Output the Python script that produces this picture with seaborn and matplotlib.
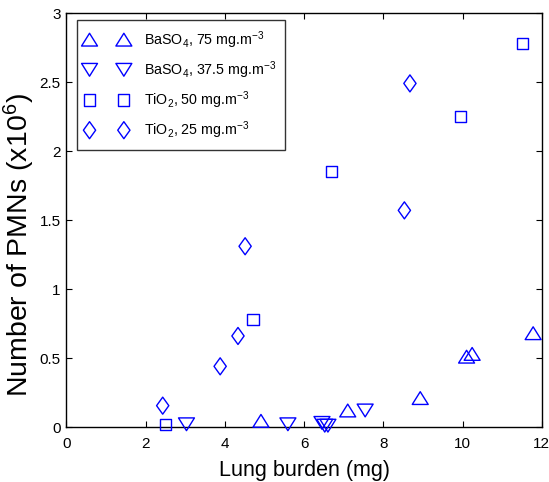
import numpy as np
import pandas as pd
import matplotlib
matplotlib.use("Agg")
import matplotlib.pyplot as plt
from matplotlib.path import Path
import seaborn as sns

# Lung burden (mg) and PMN counts (x10^6) for each exposure group
baso4_75_x = [4.91, 7.10, 8.93, 10.10, 10.24, 11.78]
baso4_75_y = [0.045, 0.12, 0.21, 0.51, 0.53, 0.68]

baso4_375_x = [3.03, 5.59, 6.45, 6.52, 6.60, 7.54]
baso4_375_y = [0.02, 0.02, 0.03, 0.01, 0.01, 0.12]

tio2_50_x = [2.51, 4.71, 6.68, 9.95, 11.52]
tio2_50_y = [0.02, 0.78, 1.85, 2.25, 2.78]

tio2_25_x = [2.43, 3.88, 4.33, 4.51, 8.53, 8.67]
tio2_25_y = [0.155, 0.44, 0.66, 1.31, 1.57, 2.49]

labels = [
    r"BaSO$_4$, 75 mg.m$^{-3}$",
    r"BaSO$_4$, 37.5 mg.m$^{-3}$",
    r"TiO$_2$, 50 mg.m$^{-3}$",
    r"TiO$_2$, 25 mg.m$^{-3}$",
]
x_ticks = [0, 2, 4, 6, 8, 10, 12]
y_ticks = [0, 0.5, 1, 1.5, 2, 2.5, 3]
y_tick_labels = ["0", "0.5", "1", "1.5", "2", "2.5", "3"]

sns.set_theme(style="white")
plt.rcParams["font.family"] = ["Liberation Sans", "DejaVu Sans"]
plt.rcParams["mathtext.default"] = "regular"
plt.rcParams["text.color"] = "black"
plt.rcParams["axes.labelcolor"] = "black"

closed4 = [Path.MOVETO, Path.LINETO, Path.LINETO, Path.CLOSEPOLY]
# Wide open triangles and a tall diamond
tri_up = Path([(-1, -0.8), (1, -0.8), (0, 0.8), (-1, -0.8)], closed4)
tri_down = Path([(-1, 0.8), (1, 0.8), (0, -0.8), (-1, 0.8)], closed4)
diamond = Path([(0, 1), (0.72, 0), (0, -1), (-0.72, 0), (0, 1)],
               [Path.MOVETO, Path.LINETO, Path.LINETO, Path.LINETO, Path.CLOSEPOLY])

frames = []
for xs, ys, lab in [(baso4_75_x, baso4_75_y, labels[0]),
                    (baso4_375_x, baso4_375_y, labels[1]),
                    (tio2_50_x, tio2_50_y, labels[2]),
                    (tio2_25_x, tio2_25_y, labels[3])]:
    frames.append(pd.DataFrame({"burden": xs, "pmn": ys, "group": lab}))
df = pd.concat(frames, ignore_index=True)

fig = plt.figure(figsize=(5.49, 4.82), dpi=100)
ax = fig.add_axes([0.121, 0.114, 0.866, 0.859])

marker_map = {labels[0]: tri_up, labels[1]: tri_down, labels[2]: "s", labels[3]: diamond}
size_map = {labels[0]: 132, labels[1]: 132, labels[2]: 64, labels[3]: 150}

for lab in labels:
    sub = df[df["group"] == lab]
    sns.scatterplot(data=sub, x="burden", y="pmn", ax=ax, marker=marker_map[lab],
                    s=size_map[lab], facecolor="none", edgecolor="#0000ff",
                    linewidth=1.0, label=lab, clip_on=False, zorder=3)

ax.set_xlim(0, 12)
ax.set_ylim(0, 3)
ax.set_xticks(x_ticks)
ax.set_xticklabels([str(t) for t in x_ticks])
ax.set_yticks(y_ticks)
ax.set_yticklabels(y_tick_labels)
ax.tick_params(direction="in", length=4, width=0.8, top=True, right=True,
               bottom=True, left=True, labelsize=11, colors="black")
ax.tick_params(axis="x", pad=7)
ax.tick_params(axis="y", pad=4)
for sp in ax.spines.values():
    sp.set_color("black")
    sp.set_linewidth(1.0)

ax.set_xlabel("Lung burden (mg)", fontsize=15.5, labelpad=7, color="black")
ax.set_ylabel("Number of PMNs (x10$^{6}$)", fontsize=20.5, color="black")
ax.yaxis.set_label_coords(-0.062, 0.44)

leg = ax.legend(loc="upper left", bbox_to_anchor=(0.0215, 0.982), borderaxespad=0,
                scatterpoints=2, scatteryoffsets=[0.5], handlelength=3.0,
                handletextpad=1.1, labelspacing=0.6, fontsize=10.3,
                frameon=True, fancybox=False, borderpad=0.6, labelcolor="black")
leg.get_frame().set_edgecolor("black")
leg.get_frame().set_linewidth(1.0)

fig.savefig("out.png", dpi=100)
